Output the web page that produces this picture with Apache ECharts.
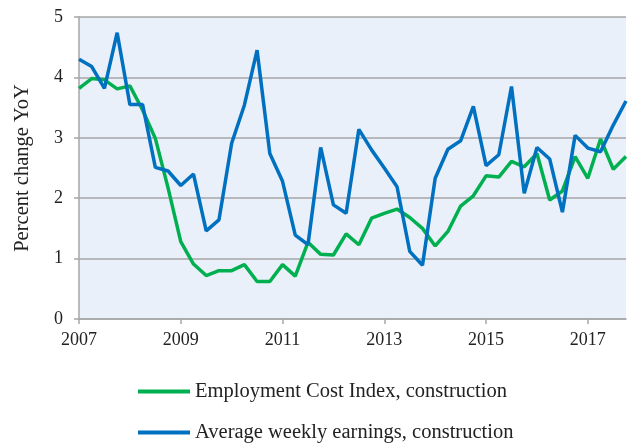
<!DOCTYPE html>
<html>
<head>
<meta charset="utf-8">
<script src="https://cdn.jsdelivr.net/npm/echarts@6/dist/echarts.min.js"></script>
<style>
  html, body { margin: 0; padding: 0; background: #fff; }
  #chart { width: 630px; height: 445px; }
</style>
</head>
<body>
<div id="chart"></div>
<script>
// quarterly, 2007Q1 .. 2017Q4
const quarters = [
  '2007Q1','2007Q2','2007Q3','2007Q4','2008Q1','2008Q2','2008Q3','2008Q4',
  '2009Q1','2009Q2','2009Q3','2009Q4','2010Q1','2010Q2','2010Q3','2010Q4',
  '2011Q1','2011Q2','2011Q3','2011Q4','2012Q1','2012Q2','2012Q3','2012Q4',
  '2013Q1','2013Q2','2013Q3','2013Q4','2014Q1','2014Q2','2014Q3','2014Q4',
  '2015Q1','2015Q2','2015Q3','2015Q4','2016Q1','2016Q2','2016Q3','2016Q4',
  '2017Q1','2017Q2','2017Q3','2017Q4'
]

const eciConstruction = [
  3.82, 3.98, 3.96, 3.81, 3.86, 3.46, 2.99, 2.17,
  1.28, 0.91, 0.72, 0.80, 0.80, 0.90, 0.62, 0.62,
  0.90, 0.71, 1.27, 1.07, 1.06, 1.41, 1.23, 1.67,
  1.75, 1.82, 1.68, 1.50, 1.21, 1.45, 1.87, 2.04,
  2.37, 2.35, 2.61, 2.52, 2.74, 1.97, 2.12, 2.69,
  2.33, 2.98, 2.48, 2.69
]

const weeklyEarnings = [
  4.30, 4.18, 3.82, 4.74, 3.55, 3.55, 2.51, 2.45,
  2.21, 2.40, 1.46, 1.64, 2.91, 3.54, 4.45, 2.74,
  2.28, 1.39, 1.23, 2.84, 1.89, 1.75, 3.14, 2.80,
  2.50, 2.19, 1.12, 0.89, 2.33, 2.81, 2.95, 3.52,
  2.54, 2.72, 3.85, 2.08, 2.84, 2.65, 1.77, 3.04,
  2.83, 2.77, 3.21, 3.61
]

const seriesNames = ['Employment Cost Index, construction', 'Average weekly earnings, construction']
const yTicks = { min: 0, max: 5, step: 1 }

const font = '"Liberation Serif", "DejaVu Serif", serif'
const gray = '#a6a6a6'

const chart = echarts.init(document.getElementById('chart'), null, { renderer: 'canvas' })

// one legend per row so they stack like the original
const legendRow = (name, top) => ({
  left: 138, top,
  padding: 0,
  itemWidth: 52, itemHeight: 4,
  icon: 'rect',
  textStyle: { fontFamily: font, fontSize: 20.5, lineHeight: 20, color: '#222' },
  data: [name]
})

chart.setOption({
  animation: false,
  textStyle: { fontFamily: font },
  grid: {
    left: 79, right: 4, top: 17, bottom: 126,
    show: true, backgroundColor: '#eaf0f9', borderWidth: 0
  },
  legend: [legendRow(seriesNames[0], 381), legendRow(seriesNames[1], 422)],
  xAxis: {
    type: 'category',
    data: quarters,
    boundaryGap: false,
    axisLine: { lineStyle: { color: gray, width: 1.5 } },
    axisTick: { interval: 7, length: 5, lineStyle: { color: gray, width: 1.5 } },
    axisLabel: {
      interval: 7, margin: 12,
      fontFamily: font, fontSize: 18, color: '#222',
      formatter: v => v.slice(0, 4)
    },
    splitLine: { show: false }
  },
  yAxis: {
    type: 'value',
    min: yTicks.min, max: yTicks.max, interval: yTicks.step,
    name: 'Percent change YoY',
    nameLocation: 'middle',
    nameGap: 46,
    nameTextStyle: { fontFamily: font, fontSize: 20.5, color: '#222' },
    axisLine: { show: true, lineStyle: { color: gray, width: 1.5 } },
    axisTick: { show: true, length: 5, lineStyle: { color: gray, width: 1.5 } },
    axisLabel: { margin: 16, fontFamily: font, fontSize: 18, color: '#222' },
    splitLine: { lineStyle: { color: gray, width: 1.5 } }
  },
  series: [
    {
      name: seriesNames[0],
      type: 'line',
      data: eciConstruction,
      symbol: 'none',
      lineStyle: { color: '#00b050', width: 3.5 },
      itemStyle: { color: '#00b050' },
      z: 2
    },
    {
      name: seriesNames[1],
      type: 'line',
      data: weeklyEarnings,
      symbol: 'none',
      lineStyle: { color: '#0070c0', width: 3.5 },
      itemStyle: { color: '#0070c0' },
      z: 3
    }
  ]
})
</script>
</body>
</html>
